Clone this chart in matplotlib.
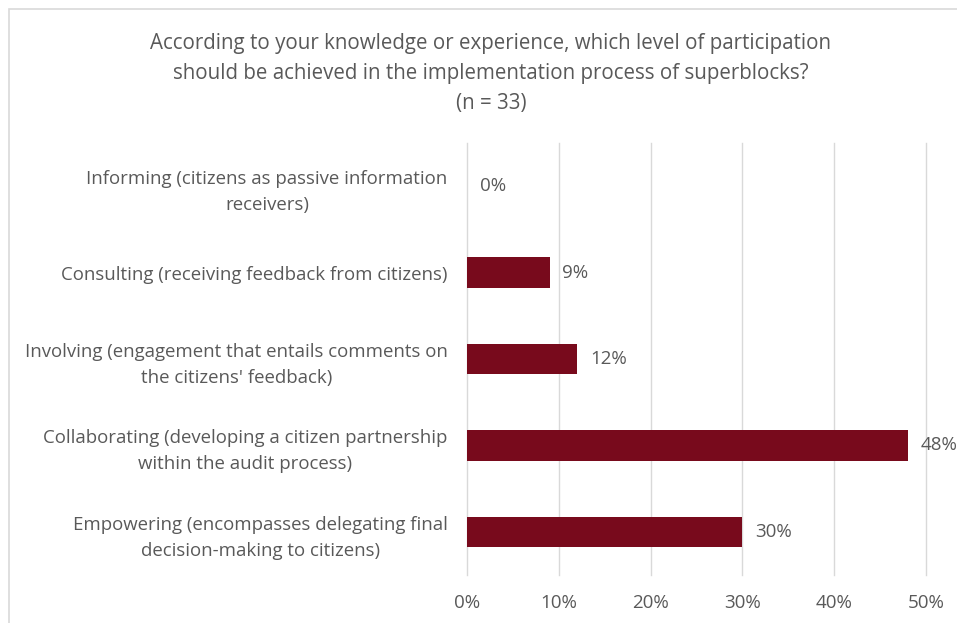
import numpy as np
import matplotlib.pyplot as plt
import matplotlib.ticker as ticker
from matplotlib.patches import Rectangle

categories = [
    "Informing (citizens as passive information\nreceivers)",
    "Consulting (receiving feedback from citizens)",
    "Involving (engagement that entails comments on\nthe citizens' feedback)",
    "Collaborating (developing a citizen partnership\nwithin the audit process)",
    "Empowering (encompasses delegating final\ndecision-making to citizens)",
]
shares = [0, 9, 12, 48, 30]
x_ticks = [0, 10, 20, 30, 40, 50]

BAR = '#780A1C'
GREY = '#595959'
GRID = '#D9D9D9'

plt.rcParams['font.family'] = ['Open Sans', 'DejaVu Sans']

fig = plt.figure(figsize=(9.57, 6.23), dpi=100)
ax = fig.add_axes([0.488, 0.077, 0.4795, 0.6935])

# chart border, cut at the right and bottom edges
fig.patches.append(Rectangle((9 / 957, -0.1), 1.2, 1 - 9 / 623 + 0.1,
                             transform=fig.transFigure, fill=False,
                             edgecolor=GRID, linewidth=1.2))

y = np.arange(len(categories))
ax.barh(y, shares, height=0.35, color=BAR, zorder=3)
for yi, v in zip(y, shares):
    ax.text(v + 1.4, yi, f"{v}%", va='center', ha='left', fontsize=13.5,
            color=GREY, zorder=4, clip_on=False)

ax.set_ylim(len(categories) - 0.5, -0.5)
ax.set_yticks(y)
ax.set_yticklabels(categories, fontsize=13.4, color=GREY,
                   multialignment='center', linespacing=1.55)
ax.set_xlim(0, 50)
ax.set_xticks(x_ticks)
ax.xaxis.set_major_formatter(ticker.FuncFormatter(lambda v, p: f"{v:.0f}%"))
ax.tick_params(axis='x', labelsize=13.5, labelcolor=GREY, length=0, pad=14)
ax.tick_params(axis='y', length=0, pad=14)
ax.grid(axis='x', color=GRID, linewidth=1.0, zorder=0)
for gl in ax.get_xgridlines():
    gl.set_clip_on(False)
for s in ax.spines.values():
    s.set_visible(False)

fig.text(0.513, 0.947,
         "According to your knowledge or experience, which level of participation\n"
         "should be achieved in the implementation process of superblocks?\n"
         "(n = 33)",
         ha='center', va='top', fontsize=14.8, color=GREY, linespacing=1.55)

fig.savefig('out.png', dpi=100)
